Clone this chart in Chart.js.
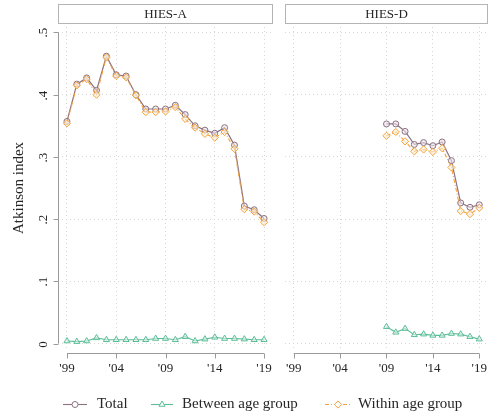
<!DOCTYPE html>
<html>
<head>
<meta charset="utf-8">
<script src="https://cdn.jsdelivr.net/npm/chart.js@4.4.1/dist/chart.umd.min.js"></script>
<style>
  html,body{margin:0;padding:0;background:#fff;}
  #wrap{position:relative;width:498px;height:416px;background:#fff;overflow:hidden;}
  canvas{position:absolute;top:0;}
</style>
</head>
<body>
<div id="wrap">
  <canvas id="cA" width="498" height="416" style="left:0;width:498px;height:416px;"></canvas>
  <canvas id="cD" width="223" height="385" style="left:275px;width:223px;height:385px;"></canvas>
</div>
<script>
// ---------- data ----------
const panelTitles = ["HIES-A", "HIES-D"];
const yearsA = [1999,2000,2001,2002,2003,2004,2005,2006,2007,2008,2009,2010,2011,2012,2013,2014,2015,2016,2017,2018,2019];
const totalA   = [0.357,0.417,0.427,0.407,0.462,0.432,0.430,0.400,0.377,0.377,0.377,0.383,0.368,0.350,0.343,0.338,0.347,0.319,0.221,0.215,0.201];
const betweenA = [0.004,0.003,0.004,0.009,0.006,0.006,0.006,0.006,0.006,0.008,0.008,0.006,0.011,0.004,0.007,0.010,0.008,0.008,0.007,0.006,0.006];
const withinA  = [0.354,0.415,0.425,0.400,0.460,0.430,0.428,0.399,0.372,0.372,0.373,0.380,0.361,0.347,0.337,0.331,0.340,0.313,0.216,0.212,0.195];

const yearsD = [2009,2010,2011,2012,2013,2014,2015,2016,2017,2018,2019];
const totalD   = [0.353,0.353,0.341,0.320,0.323,0.318,0.324,0.294,0.226,0.219,0.223];
const betweenD = [0.027,0.018,0.024,0.014,0.015,0.013,0.013,0.016,0.015,0.011,0.007];
const withinD  = [0.334,0.340,0.325,0.309,0.312,0.308,0.314,0.283,0.213,0.208,0.218];

const seriesNames = ["Total", "Between age group", "Within age group"];
const xTickValues = [1999, 2004, 2009, 2014, 2019];
const xTickLabels = ["'99", "'04", "'09", "'14", "'19"];
const yTickValues = [0, 0.1, 0.2, 0.3, 0.4, 0.5];
const yTickLabels = ["0", ".1", ".2", ".3", ".4", ".5"];
const yTitle = "Atkinson index";

// ---------- style ----------
const C_TOTAL = '#8c7181';
const C_BETWEEN = '#5dbd98';
const C_WITHIN = '#f2a23a';
const FONT = "'Liberation Serif', 'DejaVu Serif', serif";
const TXT = '#262626';
Chart.defaults.font.family = FONT;
Chart.defaults.color = TXT;

function pts(xs, ys){ return xs.map((x,i)=>({x:x, y:ys[i]})); }

function datasets(years, tot, btw, wit){
  return [
    {label: seriesNames[0], data: pts(years, tot), borderColor: C_TOTAL, backgroundColor: 'rgba(140,113,129,0.12)',
     borderWidth: 1.2, pointStyle: 'circle', pointRadius: 3, pointBorderWidth: 1, pointBorderColor: C_TOTAL,
     pointBackgroundColor: 'rgba(235,228,236,0.6)', order: 2, tension: 0},
    {label: seriesNames[1], data: pts(years, btw), borderColor: C_BETWEEN, backgroundColor: 'rgba(93,189,152,0.1)',
     borderWidth: 1.1, pointStyle: 'triangle', pointRadius: 3.5, pointBorderWidth: 1, pointBorderColor: C_BETWEEN,
     pointBackgroundColor: 'rgba(225,245,236,0.6)', order: 1, tension: 0},
    {label: seriesNames[2], data: pts(years, wit), borderColor: C_WITHIN, backgroundColor: 'rgba(242,162,58,0.1)',
     borderWidth: 1.1, borderDash: [4,2,1,2], pointStyle: 'rectRot', pointRadius: 3.6, pointBorderWidth: 1,
     pointBorderColor: C_WITHIN, pointBackgroundColor: 'rgba(253,240,220,0.6)', order: 0, tension: 0}
  ];
}

const panelPlugin = {
  id: 'panel',
  afterDraw(chart, args, opts){
    const ctx = chart.ctx, ca = chart.chartArea, xs = chart.scales.x, ys = chart.scales.y;
    ctx.save();
    // header strip
    const L = Math.round(ca.left) + 0.5, R = Math.round(ca.right) - 0.5;
    ctx.fillStyle = '#ffffff';
    ctx.fillRect(L, 4.5, R - L, 19);
    ctx.strokeStyle = '#b4b4b4'; ctx.lineWidth = 1;
    ctx.strokeRect(L, 4.5, R - L, 19);
    ctx.fillStyle = TXT; ctx.font = "13px " + FONT;
    ctx.textAlign = 'center'; ctx.textBaseline = 'middle';
    ctx.fillText(opts.title, (L + R) / 2, 14.5);
    // x axis line + ticks
    ctx.strokeStyle = '#9a9a9a'; ctx.lineWidth = 1;
    const ay = Math.round(ca.bottom) + 3.5;
    const x1 = xs.getPixelForValue(xTickValues[0]), x2 = xs.getPixelForValue(xTickValues[xTickValues.length-1]);
    ctx.beginPath(); ctx.moveTo(x1, ay); ctx.lineTo(x2, ay); ctx.stroke();
    xTickValues.forEach(v => {
      const px = Math.round(xs.getPixelForValue(v)) + 0.5;
      ctx.beginPath(); ctx.moveTo(px, ay); ctx.lineTo(px, ay + 5); ctx.stroke();
    });
    if (opts.yaxis){
      const ax = Math.round(ca.left) + 0.5;
      const yTop = ys.getPixelForValue(yTickValues[yTickValues.length-1]);
      const yBot = ys.getPixelForValue(yTickValues[0]);
      ctx.beginPath(); ctx.moveTo(ax, yTop); ctx.lineTo(ax, yBot); ctx.stroke();
      ctx.font = "13px " + FONT; ctx.fillStyle = TXT;
      yTickValues.forEach((v, i) => {
        const py = Math.round(ys.getPixelForValue(v)) + 0.5;
        ctx.beginPath(); ctx.moveTo(ax - 5, py); ctx.lineTo(ax, py); ctx.stroke();
        ctx.save(); ctx.translate(44, py); ctx.rotate(-Math.PI/2);
        ctx.textAlign = 'center'; ctx.textBaseline = 'middle';
        ctx.fillText(yTickLabels[i], 0, 0); ctx.restore();
      });
      ctx.save(); ctx.translate(19, (yTop + yBot) / 2); ctx.rotate(-Math.PI/2);
      ctx.font = "15px " + FONT; ctx.textAlign = 'center'; ctx.textBaseline = 'middle';
      ctx.fillText(yTitle, 0, 0); ctx.restore();
    }
    if (opts.legend){
      const ly = 404.5;
      const items = [
        {c: C_TOTAL, s: 'circle', x0: 63, x1: 87, tx: 97, dash: []},
        {c: C_BETWEEN, s: 'triangle', x0: 151, x1: 173, tx: 182, dash: []},
        {c: C_WITHIN, s: 'rectRot', x0: 325, x1: 351, tx: 358, dash: [4,2,1,2]}
      ];
      items.forEach((it, i) => {
        ctx.strokeStyle = it.c; ctx.lineWidth = 1.1; ctx.setLineDash(it.dash);
        ctx.beginPath(); ctx.moveTo(it.x0, ly); ctx.lineTo(it.x1, ly); ctx.stroke();
        ctx.setLineDash([]);
        const ds = chart.data.datasets[i];
        ctx.fillStyle = '#ffffff'; ctx.strokeStyle = it.c; ctx.lineWidth = 1;
        Chart.helpers.drawPoint(ctx, {pointStyle: it.s, rotation: 0, radius: ds.pointRadius, borderWidth: 1},
                                (it.x0 + it.x1) / 2, ly);
        ctx.fillStyle = TXT; ctx.font = "15px " + FONT; ctx.textAlign = 'left'; ctx.textBaseline = 'middle';
        ctx.fillText(seriesNames[i], it.tx, ly);
      });
    }
    ctx.restore();
  }
};

function makeOptions(title, yWidth, padRight, xHeight, yaxis, legend){
  return {
    responsive: false, animation: false, devicePixelRatio: 1,
    layout: {padding: {top: 27, right: padRight, left: 0, bottom: 0}},
    plugins: {legend: {display: false}, tooltip: {enabled: false},
              panel: {title: title, yaxis: yaxis, legend: legend}},
    scales: {
      x: {type: 'linear', min: 1998.09, max: 2019.91,
          afterBuildTicks: s => { s.ticks = xTickValues.map(v => ({value: v})); },
          afterFit: s => { s.height = xHeight; },
          ticks: {callback: (v, i) => xTickLabels[i], maxRotation: 0, minRotation: 0, padding: 11,
                  font: {size: 13, family: FONT}, color: TXT},
          grid: {color: '#d6d6d6', lineWidth: 1, drawTicks: false},
          border: {display: false, dash: [1, 3]}},
      y: {type: 'linear', min: -0.01045, max: 0.50884,
          afterBuildTicks: s => { s.ticks = yTickValues.map(v => ({value: v})); },
          afterFit: s => { s.width = yWidth; },
          ticks: {display: false},
          grid: {color: '#d6d6d6', lineWidth: 1, drawTicks: false},
          border: {display: false, dash: [1, 3]}}
    }
  };
}

new Chart(document.getElementById('cA'), {
  type: 'line',
  data: {datasets: datasets(yearsA, totalA, betweenA, withinA)},
  options: makeOptions(panelTitles[0], 58, 225, 66, true, true),
  plugins: [panelPlugin]
});
new Chart(document.getElementById('cD'), {
  type: 'line',
  data: {datasets: datasets(yearsD, totalD, betweenD, withinD)},
  options: makeOptions(panelTitles[1], 7, 1, 35, false, false),
  plugins: [panelPlugin]
});
</script>
</body>
</html>
